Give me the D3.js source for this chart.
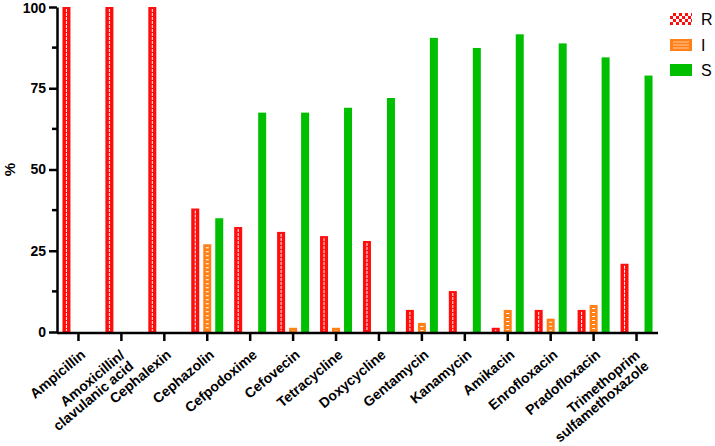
<!DOCTYPE html>
<html>
<head>
<meta charset="utf-8">
<script src="https://cdn.jsdelivr.net/npm/d3@7"></script>
<style>
  body { margin: 0; background: #fff; }
  svg { font-family: "Liberation Sans", Arial, sans-serif; }
</style>
</head>
<body>
<div id="chart"></div>
<script>
// Antimicrobial susceptibility - R / I / S percentages
const drugs = ["Ampicillin", "Amoxicillin/|clavulanic acid", "Cephalexin", "Cephazolin", "Cefpodoxime",
    "Cefovecin", "Tetracycline", "Doxycycline", "Gentamycin", "Kanamycin", "Amikacin",
    "Enrofloxacin", "Pradofloxacin", "Trimethoprim|sulfamethoxazole"];
const resistant    = [100, 100, 100, 38, 32.3, 30.8, 29.5, 28, 6.8, 12.6, 1.3, 6.8, 6.8, 21];
const intermediate = [0, 0, 0, 27, 0, 1.3, 1.3, 0, 2.8, 0, 6.8, 4.1, 8.3, 0];
const susceptible  = [0, 0, 0, 35, 67.5, 67.5, 69, 72, 90.5, 87.4, 91.6, 88.8, 84.5, 78.9];
const keys = ["R", "I", "S"];
const yTicks = [0, 25, 50, 75, 100];

const width = 715, height = 446;
const colors = { R: "#ff0d0d", I: "#ff8016", S: "#00bf00" };

const rows = drugs.map((d, i) => ({
    name: d,
    R: resistant[i],
    I: intermediate[i],
    S: susceptible[i]
}));

const svg = d3.select("#chart")
    .append("svg")
    .attr("width", width)
    .attr("height", height);

// Checkered pattern for the R legend swatch
const defs = svg.append("defs");
const chk = defs.append("pattern")
    .attr("id", "pat-r")
    .attr("patternUnits", "userSpaceOnUse")
    .attr("width", 6).attr("height", 6);
chk.append("rect").attr("width", 6).attr("height", 6).attr("fill", colors.R);
chk.append("rect").attr("x", 0).attr("y", 0).attr("width", 3).attr("height", 3).attr("fill", "#fff");
chk.append("rect").attr("x", 3).attr("y", 3).attr("width", 3).attr("height", 3).attr("fill", "#fff");

const x = d3.scaleBand().domain(drugs).range([57, 658]);
const x1 = d3.scaleBand().domain(keys).range([-18, 18]).paddingInner(1 / 3).paddingOuter(1 / 6);
const y = d3.scaleLinear().domain([0, 100]).range([332, 7]);

const cx = d => x(d) + x.bandwidth() / 2;

// Bars
const groups = svg.append("g").selectAll("g")
    .data(rows)
    .join("g")
    .attr("transform", d => `translate(${cx(d.name)},0)`);

const bars = groups.selectAll("g.bar")
    .data(d => keys.map(k => ({ key: k, value: d[k] })).filter(b => b.value > 0))
    .join("g")
    .attr("class", "bar");

bars.append("rect")
    .attr("x", d => x1(d.key))
    .attr("y", d => y(d.value))
    .attr("width", x1.bandwidth())
    .attr("height", d => y(0) - y(d.value))
    .attr("fill", d => colors[d.key]);

// R: white wavy centre line
bars.filter(d => d.key === "R" && y(0) - y(d.value) > 3)
    .append("line")
    .attr("x1", d => x1(d.key) + x1.bandwidth() / 2)
    .attr("x2", d => x1(d.key) + x1.bandwidth() / 2)
    .attr("y1", d => y(d.value) + 2)
    .attr("y2", y(0) - 1)
    .attr("stroke", "#fff")
    .attr("stroke-width", 1)
    .attr("stroke-dasharray", "3,1");

// I: short white horizontal dashes
bars.filter(d => d.key === "I" && y(0) - y(d.value) > 4)
    .append("line")
    .attr("x1", d => x1(d.key) + x1.bandwidth() / 2)
    .attr("x2", d => x1(d.key) + x1.bandwidth() / 2)
    .attr("y1", d => y(d.value) + 3)
    .attr("y2", y(0) - 1)
    .attr("stroke", "#fff")
    .attr("stroke-width", 3)
    .attr("stroke-dasharray", "1,3");

// Y axis
const yAxis = svg.append("g")
    .attr("transform", "translate(57,0)")
    .call(d3.axisLeft(y).tickValues(yTicks).tickSize(8).tickPadding(3).tickSizeOuter(0));
yAxis.select(".domain").attr("stroke-width", 2.5);
yAxis.selectAll(".tick line").attr("stroke-width", 2.5);
yAxis.selectAll(".tick text")
    .attr("font-size", 14).attr("font-weight", "bold")
    .attr("font-family", "Liberation Sans, Arial, sans-serif");
yAxis.selectAll(".tick").filter(d => d === 100).select("text").attr("dy", "0.4em");

svg.append("g")
    .attr("transform", "translate(57,0)")
    .selectAll("line")
    .data([12.5, 37.5, 62.5, 87.5])
    .join("line")
    .attr("x1", -5).attr("x2", 0)
    .attr("y1", d => y(d)).attr("y2", d => y(d))
    .attr("stroke", "#000").attr("stroke-width", 2.5);

svg.append("text")
    .attr("transform", `translate(15,${y(50)}) rotate(-90)`)
    .attr("text-anchor", "middle")
    .attr("font-size", 15).attr("font-weight", "bold")
    .text("%");

// X axis
const xAxis = svg.append("g")
    .attr("transform", `translate(0,${y(0) + 1})`);
xAxis.append("line")
    .attr("x1", 57).attr("x2", 658)
    .attr("stroke", "#000").attr("stroke-width", 2.5);
xAxis.selectAll("line.tk")
    .data(drugs)
    .join("line")
    .attr("class", "tk")
    .attr("x1", d => cx(d)).attr("x2", d => cx(d))
    .attr("y1", 0).attr("y2", 8)
    .attr("stroke", "#000").attr("stroke-width", 2.5);

const labels = xAxis.selectAll("text")
    .data(drugs)
    .join("text")
    .attr("transform", d => d.includes("|")
        ? `translate(${cx(d) + 1},${20}) rotate(-40)`
        : `translate(${cx(d) + 4.6},${19.5}) rotate(-40)`)
    .attr("text-anchor", "end")
    .attr("font-size", 14).attr("font-weight", "bold");
labels.selectAll("tspan")
    .data(d => d.split("|"))
    .join("tspan")
    .attr("x", 0)
    .attr("dy", (d, i) => i === 0 ? "0.35em" : "1.0em")
    .text(d => d);

// Legend
const legend = svg.append("g").selectAll("g")
    .data(keys)
    .join("g")
    .attr("transform", (d, i) => `translate(670,${[13, 39, 64][i]})`);
legend.append("rect")
    .attr("width", 22).attr("height", 12)
    .attr("fill", d => d === "R" ? "url(#pat-r)" : colors[d]);
legend.filter(d => d === "I").selectAll("line")
    .data([3, 6, 9])
    .join("line")
    .attr("x1", 3).attr("x2", 19)
    .attr("y1", d => d).attr("y2", d => d)
    .attr("stroke", "#fff").attr("stroke-opacity", 0.6).attr("stroke-width", 1);
legend.append("text")
    .attr("x", 31).attr("y", 6)
    .attr("dy", "0.35em")
    .attr("font-size", 16)
    .text(d => d);
</script>
</body>
</html>
